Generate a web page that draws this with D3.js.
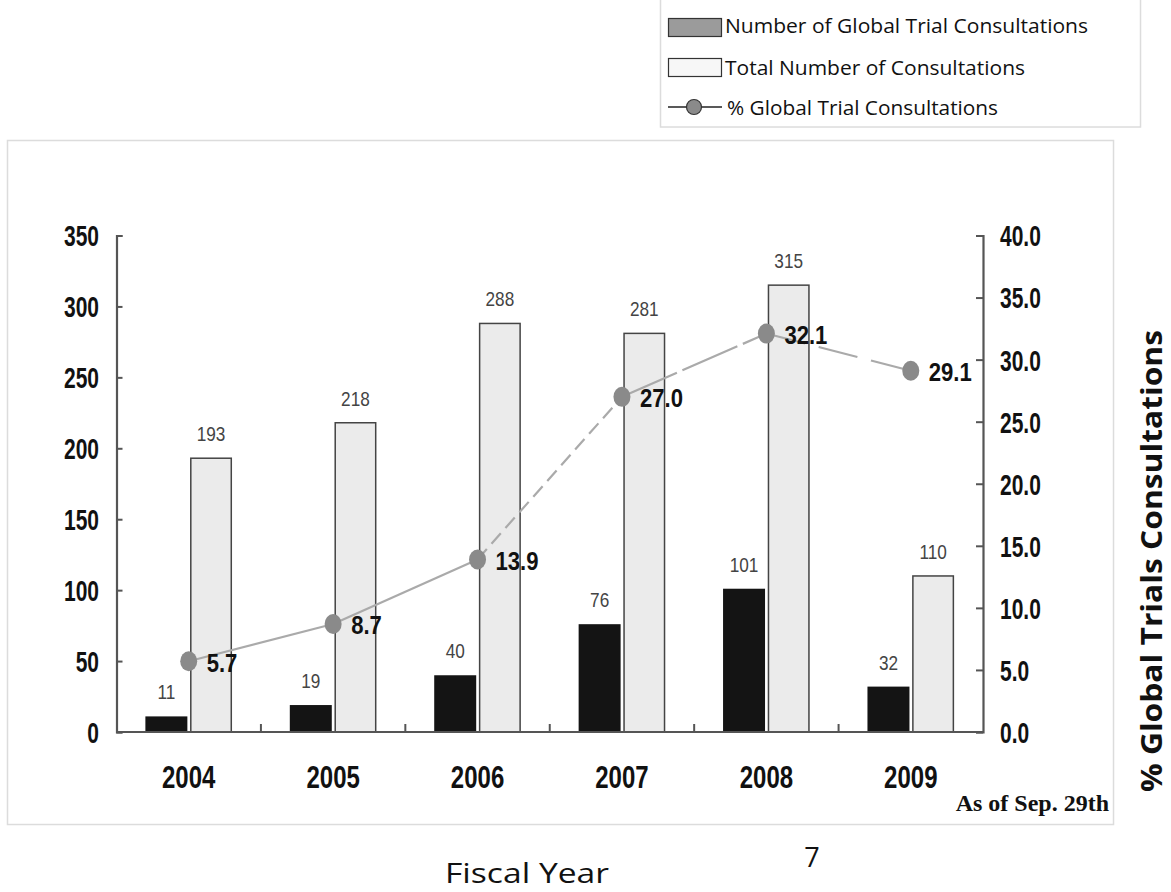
<!DOCTYPE html>
<html>
<head>
<meta charset="utf-8">
<script src="https://cdn.jsdelivr.net/npm/d3@7"></script>
<style>
  html, body { margin: 0; padding: 0; background: #fff; }
  svg { display: block; }
  .narrow { font-family: "Liberation Sans", Arial, sans-serif; }
  .sans { font-family: "Open Sans", "Noto Sans", sans-serif; }
</style>
</head>
<body>
<svg id="chart" width="1171" height="892"></svg>
<script>
// Fiscal years and consultation counts
const years = ["2004", "2005", "2006", "2007", "2008", "2009"];
const globalTrials = [11, 19, 40, 76, 101, 32];
const totalConsultations = [193, 218, 288, 281, 315, 110];
const globalShare = [5.7, 8.7, 13.9, 27.0, 32.1, 29.1];
const leftTicks = [0, 50, 100, 150, 200, 250, 300, 350];
const rightTicks = [0, 5, 10, 15, 20, 25, 30, 35, 40];
const legendLabels = [
  "Number of Global Trial Consultations",
  "Total Number of Consultations",
  "% Global Trial Consultations"
];

const svg = d3.select("#chart");

// Condensed lettering: a horizontally squeezed sans face
function narrowText(sel, xf, yf, sx, sy = 1) {
  return sel.attr("class", "narrow")
    .attr("transform", (d, i) => `translate(${xf(d, i)},${yf(d, i)}) scale(${sx},${sy})`);
}

// Outer frame of the plot
svg.append("rect")
  .attr("x", 7.5).attr("y", 140.5).attr("width", 1106).attr("height", 684)
  .attr("fill", "none").attr("stroke", "#dcdcdc").attr("stroke-width", 1.5);

const plot = { left: 116.5, right: 983, top: 235.5, bottom: 732 };

const x0 = d3.scaleBand().domain(years)
  .range([plot.left, plot.right]).paddingInner(0.4).paddingOuter(0.2);
const x1 = d3.scaleBand().domain(["global", "total"])
  .range([0, x0.bandwidth()]).paddingInner(0.06);
const yL = d3.scaleLinear().domain([0, 350]).range([plot.bottom, plot.top]);
const yR = d3.scaleLinear().domain([0, 40]).range([plot.bottom, plot.top]);

const rows = years.map((y, i) => ({
  year: y, global: globalTrials[i], total: totalConsultations[i], pct: globalShare[i]
}));

// Bars
const groups = svg.append("g").selectAll("g").data(rows).join("g")
  .attr("transform", d => `translate(${x0(d.year)},0)`);

groups.append("rect")
  .attr("x", x1("global")).attr("width", x1.bandwidth())
  .attr("y", d => yL(d.global)).attr("height", d => yL(0) - yL(d.global))
  .attr("fill", "#141414");

groups.append("rect")
  .attr("x", x1("total") + 0.75).attr("width", x1.bandwidth() - 1.5)
  .attr("y", d => yL(d.total)).attr("height", d => yL(0) - yL(d.total))
  .attr("fill", "#ebebeb").attr("stroke", "#444").attr("stroke-width", 1.5);

// Bar value labels
narrowText(groups.append("text"),
  () => x1("global") + x1.bandwidth() / 2, d => yL(d.global) - 17, 0.86)
  .attr("text-anchor", "middle").attr("font-size", 20).attr("fill", "#444")
  .text(d => d.global);

narrowText(groups.append("text"),
  () => x1("total") + x1.bandwidth() / 2, d => yL(d.total) - 17, 0.86)
  .attr("text-anchor", "middle").attr("font-size", 20).attr("fill", "#444")
  .text(d => d.total);

// Axes
const axisColor = "#555";
const leftAxis = svg.append("g").attr("transform", `translate(${plot.left},0)`)
  .call(d3.axisRight(yL).tickValues(leftTicks).tickSize(6).tickFormat(""));
const rightAxis = svg.append("g").attr("transform", `translate(${plot.right},0)`)
  .call(d3.axisLeft(yR).tickValues(rightTicks).tickSize(7).tickFormat(""));
[leftAxis, rightAxis].forEach(a => {
  a.select(".domain").attr("stroke", axisColor).attr("stroke-width", 2.2);
  a.selectAll(".tick line").attr("stroke", axisColor).attr("stroke-width", 2);
});

narrowText(svg.append("g").selectAll("text").data(leftTicks).join("text"),
  () => 99, d => yL(d), 0.75, 1.08)
  .attr("dy", "0.36em")
  .attr("text-anchor", "end").attr("font-size", 28).attr("font-weight", "bold")
  .attr("fill", "#111").text(d => d);

narrowText(svg.append("g").selectAll("text").data(rightTicks).join("text"),
  () => 1000, d => yR(d), 0.75, 1.08)
  .attr("dy", "0.36em")
  .attr("text-anchor", "start").attr("font-size", 28).attr("font-weight", "bold")
  .attr("fill", "#111").text(d => d3.format(".1f")(d));

// Category axis with separators between years
svg.append("line")
  .attr("x1", plot.left).attr("x2", plot.right)
  .attr("y1", plot.bottom).attr("y2", plot.bottom)
  .attr("stroke", axisColor).attr("stroke-width", 2.2);

const step = x0.step();
svg.append("g").selectAll("line").data(years.slice(1)).join("line")
  .attr("x1", d => x0(d) - step * 0.2).attr("x2", d => x0(d) - step * 0.2)
  .attr("y1", plot.bottom).attr("y2", plot.bottom - 8)
  .attr("stroke", axisColor).attr("stroke-width", 2);

narrowText(svg.append("g").selectAll("text").data(years).join("text"),
  d => x0(d) + x0.bandwidth() / 2, () => 788, 0.8, 1.04)
  .attr("text-anchor", "middle").attr("font-size", 30).attr("font-weight", "bold")
  .attr("fill", "#111").text(d => d);

// Percentage line, drawn segment by segment
const cx = d => x0(d.year) + x0.bandwidth() / 2;
const dashes = [null, null, "14,7", "60,6", "40,14"];
const segs = d3.pairs(rows);
svg.append("g").selectAll("path").data(segs).join("path")
  .attr("d", (p) => d3.line().x(cx).y(d => yR(d.pct))(p))
  .attr("fill", "none").attr("stroke", "#aaa").attr("stroke-width", 2.2)
  .attr("stroke-dasharray", (p, i) => dashes[i]);

svg.append("g").selectAll("ellipse").data(rows).join("ellipse")
  .attr("cx", cx).attr("cy", d => yR(d.pct))
  .attr("rx", 8.5).attr("ry", 10)
  .attr("fill", "#8a8a8a");

narrowText(svg.append("g").selectAll("text").data(rows).join("text"),
  d => cx(d) + 18, d => yR(d.pct), 0.85)
  .attr("dy", "0.4em")
  .attr("font-size", 26).attr("font-weight", "bold").attr("fill", "#111")
  .text(d => d3.format(".1f")(d.pct));

// Footnote inside the frame
svg.append("text")
  .attr("x", 1109).attr("y", 811).attr("text-anchor", "end")
  .attr("font-family", "'Liberation Serif', 'Times New Roman', serif")
  .attr("font-size", 24).attr("font-weight", "bold").attr("fill", "#111")
  .text("As of Sep. 29th");

// Right-hand axis title
svg.append("text").attr("class", "sans")
  .attr("transform", "translate(1162,561) rotate(-90)")
  .attr("text-anchor", "middle").attr("font-size", 29).attr("font-weight", "bold")
  .attr("textLength", 462).attr("lengthAdjust", "spacingAndGlyphs")
  .attr("fill", "#111").text("% Global Trials Consultations");

// Bottom title and page number
svg.append("text").attr("class", "sans")
  .attr("x", 527).attr("y", 883).attr("text-anchor", "middle")
  .attr("font-size", 27).attr("fill", "#111")
  .attr("textLength", 164).attr("lengthAdjust", "spacingAndGlyphs")
  .text("Fiscal Year");
svg.append("text").attr("class", "sans")
  .attr("x", 812).attr("y", 867).attr("text-anchor", "middle")
  .attr("font-size", 27).attr("fill", "#111").text("7");

// Legend
const lg = svg.append("g");
lg.append("rect").attr("x", 660.5).attr("y", -1).attr("width", 480).attr("height", 128)
  .attr("fill", "#fff").attr("stroke", "#dcdcdc").attr("stroke-width", 1.5);

lg.append("rect").attr("x", 668.5).attr("y", 18.5).attr("width", 53).attr("height", 18)
  .attr("fill", "#9b9b9b").attr("stroke", "#333").attr("stroke-width", 1.2);
lg.append("rect").attr("x", 668.5).attr("y", 58.5).attr("width", 53).attr("height", 18)
  .attr("fill", "#f7f7f7").attr("stroke", "#333").attr("stroke-width", 1.2);
lg.append("line").attr("x1", 668).attr("x2", 722).attr("y1", 107).attr("y2", 107)
  .attr("stroke", "#222").attr("stroke-width", 1.3);
lg.append("circle").attr("cx", 694).attr("cy", 107).attr("r", 7.5)
  .attr("fill", "#8a8a8a").attr("stroke", "#333").attr("stroke-width", 1.2);

const legendY = [33, 75, 115];
const legendX = [725, 725, 727];
const legendW = [363, 300, 271];
lg.selectAll("text.lab").data(legendLabels).join("text").attr("class", "sans lab")
  .attr("x", (d, i) => legendX[i]).attr("y", (d, i) => legendY[i])
  .attr("textLength", (d, i) => legendW[i]).attr("lengthAdjust", "spacingAndGlyphs")
  .attr("font-size", 20).attr("fill", "#111").text(d => d);
</script>
</body>
</html>
